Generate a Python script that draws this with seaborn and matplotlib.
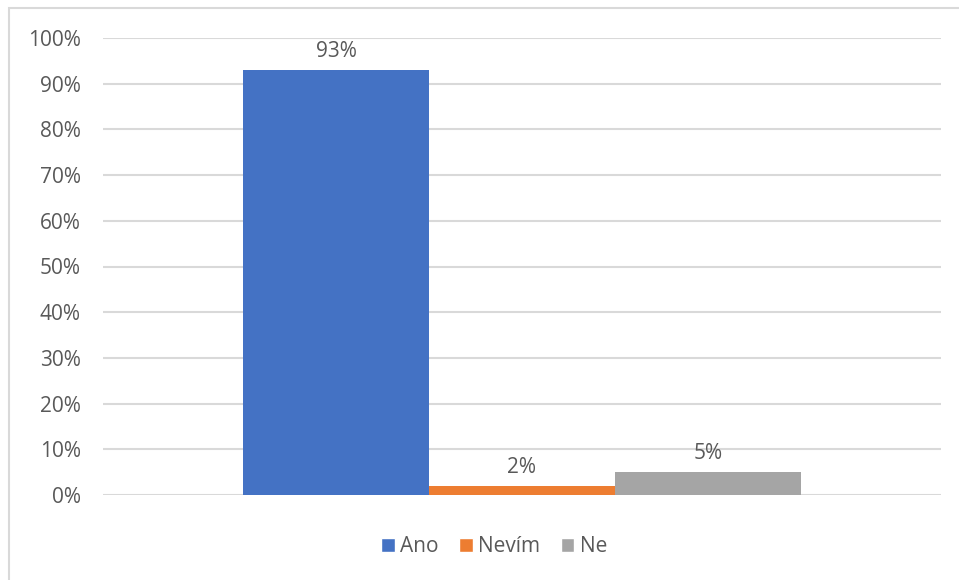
import matplotlib
matplotlib.use("Agg")
import matplotlib.pyplot as plt
from matplotlib.patches import Rectangle
import seaborn as sns
import pandas as pd

# Survey answers and their shares
answers = ["Ano", "Nevím", "Ne"]
shares = [0.93, 0.02, 0.05]
colors = ["#4472C4", "#ED7D31", "#A5A5A5"]
y_ticks = [0.0, 0.1, 0.2, 0.3, 0.4, 0.5, 0.6, 0.7, 0.8, 0.9, 1.0]
y_tick_labels = ["0%", "10%", "20%", "30%", "40%", "50%", "60%", "70%", "80%", "90%", "100%"]

df = pd.DataFrame({"group": [""] * len(answers), "answer": answers, "share": shares})

sns.set_style("white")
plt.rcParams["font.family"] = ["Open Sans", "DejaVu Sans"]
text_color = "#595959"
grid_color = "#D9D9D9"

fig = plt.figure(figsize=(9.59, 5.80), dpi=100)
ax = fig.add_axes([103 / 959, 1 - 495 / 580, (941 - 103) / 959, (495 - 38) / 580])

sns.barplot(data=df, x="group", y="share", hue="answer", hue_order=answers,
            palette=colors, width=0.666, saturation=1, ax=ax, legend=True)

ax.set_xlim(-0.5, 0.5)
ax.set_ylim(0, 1.0)
ax.set_yticks(y_ticks)
ax.set_yticklabels(y_tick_labels)
ax.set_xticks([])
ax.set_xlabel("")
ax.set_ylabel("")
ax.tick_params(axis="y", length=0, pad=16, labelsize=15, labelcolor=text_color)
for s in ax.spines.values():
    s.set_visible(False)
ax.set_axisbelow(True)
ax.yaxis.grid(True, color=grid_color, linewidth=1.5)

for container, val in zip(ax.containers, shares):
    for bar in container:
        bar.set_edgecolor("none")
    ax.bar_label(container, labels=[f"{val * 100:.0f}%"], padding=6,
                 fontsize=15, color=text_color)

# Move the legend below the plot as a single centred row
handles, labels = ax.get_legend_handles_labels()
ax.get_legend().remove()
fig.legend(handles, labels, loc="center", bbox_to_anchor=(494 / 959, 1 - 547 / 580),
           ncol=3, frameon=False, fontsize=15, labelcolor=text_color,
           handlelength=0.65, handleheight=0.65, handletextpad=0.25,
           columnspacing=1.0)

# Chart frame
fig.patches.append(Rectangle((9 / 959, -0.01), 1.0, 1 - 8 / 580 + 0.01,
                             transform=fig.transFigure, fill=False,
                             edgecolor=grid_color, linewidth=1.5))

fig.savefig("out.png", dpi=100)
